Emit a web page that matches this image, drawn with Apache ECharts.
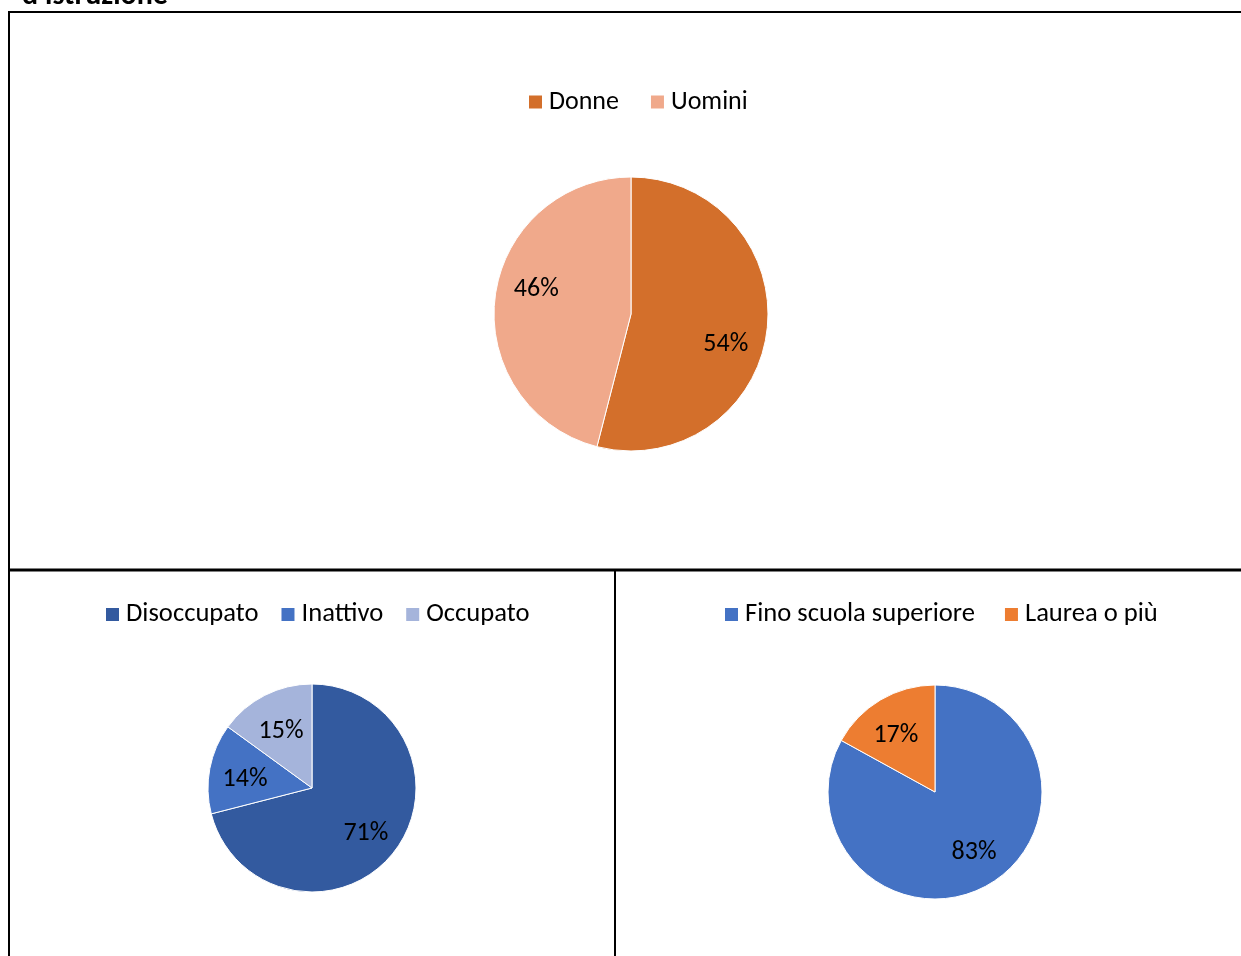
<!DOCTYPE html>
<html>
<head>
<meta charset="utf-8">
<script src="https://cdn.jsdelivr.net/npm/echarts@6/dist/echarts.min.js"></script>
<style>
html,body{margin:0;padding:0;background:#fff;}
#chart{width:1241px;height:956px;}
</style>
</head>
<body>
<div id="chart"></div>
<script>
// ---- data ----
var genderCategories = ['Donne', 'Uomini'];
var genderValues = [54, 46];
var statusCategories = ['Disoccupato', 'Inattivo', 'Occupato'];
var statusValues = [71, 14, 15];
var educationCategories = ['Fino scuola superiore', 'Laurea o più'];
var educationValues = [83, 17];
var titleText = "d'istruzione";

// ---- styles ----
var FONT = 'Carlito, Lato, sans-serif';
var FS = 26;
var genderColors = ['#D36F2B', '#F0A98B'];
var statusColors = ['#335A9F', '#4472C4', '#A5B4DB'];
var educationColors = ['#4472C4', '#ED7D31'];

var pies = [
  {center: [631, 314], r: 137, k: 1.38, rot: 9, dy: 3},
  {center: [312, 788], r: 104, k: 1.24, rot: 0, dy: 4},
  {center: [935, 792], r: 107, k: 1.25, rot: -3, dy: 2}
];

function toData(cats, vals, colors) {
  return cats.map(function (c, i) {
    return {name: c, value: vals[i], itemStyle: {color: colors[i]}};
  });
}

function pieSeries(idx, cats, vals, colors) {
  var p = pies[idx];
  return {
    type: 'pie',
    center: p.center,
    radius: [0, p.r],
    startAngle: 90,
    clockwise: true,
    data: toData(cats, vals, colors),
    itemStyle: {borderColor: '#fff', borderWidth: 1},
    label: {
      show: true,
      position: 'inside',
      formatter: '{d}%',
      color: '#000',
      fontFamily: FONT,
      fontSize: FS
    },
    labelLine: {show: false},
    emphasis: {disabled: true},
    labelLayout: function (params) {
      var lr = params.labelRect;
      var lx = lr.x + lr.width / 2, ly = lr.y + lr.height / 2;
      var vx = (lx - p.center[0]) * p.k, vy = (ly - p.center[1]) * p.k;
      var a = p.rot * Math.PI / 180;
      var rx = vx * Math.cos(a) - vy * Math.sin(a);
      var ry = vx * Math.sin(a) + vy * Math.cos(a);
      return {
        dx: p.center[0] + rx - lx,
        dy: p.center[1] + ry - ly + p.dy
      };
    }
  };
}

function legend(idx, cats, left, top, gap, fs) {
  return {
    seriesIndex: idx,
    data: cats,
    left: left,
    top: top,
    orient: 'horizontal',
    itemWidth: 15,
    itemHeight: 15,
    itemGap: gap,
    icon: 'rect',
    selectedMode: false,
    textStyle: {fontFamily: FONT, fontSize: fs, color: '#000', padding: [0, 0, 0, 1]}
  };
}

var chart = echarts.init(document.getElementById('chart'), null, {renderer: 'canvas'});
chart.setOption({
  animation: false,
  backgroundColor: '#fff',
  legend: [
    legend(0, genderCategories, 522, 84, 30, 26),
    legend(1, statusCategories, 99, 596, 21, 26.6),
    legend(2, educationCategories, 718, 596, 28, 26.6)
  ],
  series: [
    pieSeries(0, genderCategories, genderValues, genderColors),
    pieSeries(1, statusCategories, statusValues, statusColors),
    pieSeries(2, educationCategories, educationValues, educationColors)
  ],
  graphic: [
    {type: 'text', left: 22, top: -19, style: {text: titleText, font: 'bold 30px ' + FONT, fill: '#000'}},
    {type: 'line', shape: {x1: 8, y1: 12, x2: 1241, y2: 12}, style: {stroke: '#000', lineWidth: 2}},
    {type: 'line', shape: {x1: 9, y1: 11, x2: 9, y2: 956}, style: {stroke: '#000', lineWidth: 2}},
    {type: 'line', shape: {x1: 8, y1: 570, x2: 1241, y2: 570}, style: {stroke: '#000', lineWidth: 3}},
    {type: 'line', shape: {x1: 615, y1: 570, x2: 615, y2: 956}, style: {stroke: '#000', lineWidth: 2}}
  ]
});
</script>
</body>
</html>
